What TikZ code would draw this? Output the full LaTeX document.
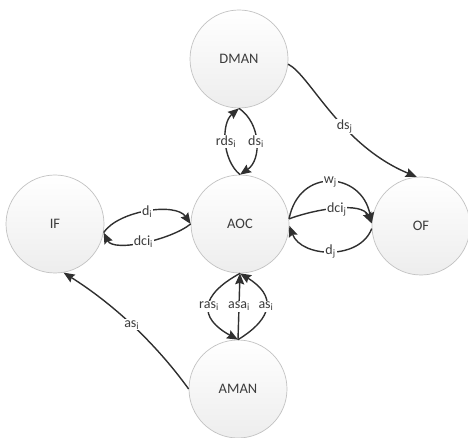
\documentclass[tikz,border=0pt]{standalone}
\usepackage{fontspec}
\setmainfont{Carlito}
\usetikzlibrary{arrows.meta}
\definecolor{txt}{HTML}{3C3C3C}
\definecolor{arr}{HTML}{303030}
\definecolor{rim}{HTML}{C2C2C2}
\begin{document}
\begin{tikzpicture}[x=1pt,y=-1pt,
  ent/.style={circle, minimum size=98pt, inner sep=0pt, draw=rim, line width=0.7pt,
    top color=white, bottom color=black!7, text=txt, font=\fontsize{14.5}{17}\selectfont},
  flow/.style={draw=arr, line width=1.4pt, -{Stealth[length=11pt,width=9pt,inset=1.5pt]}},
  lbl/.style={fill=white, inner sep=1pt, text=txt, font=\fontsize{14}{16}\selectfont}]
\useasboundingbox (0,0) rectangle (468,438);

\node[ent] (DMAN) at (239,59) {DMAN};
\node[ent] (IF) at (55,224) {IF};
\node[ent] (AOC) at (240,224) {AOC};
\node[ent] (OF) at (421,226) {OF};
\node[ent] (AMAN) at (238,389) {AMAN};

% IF <-> AOC
\draw[flow] (IF.-10) .. controls +(15,-22) and +(-15,-22) .. node[lbl] {d\textsubscript{i}} (AOC.180);
\draw[flow] (AOC.180) .. controls +(-20,16) and +(10,20) .. node[lbl] {dci\textsubscript{i}} (IF.-10);

% DMAN <-> AOC
\draw[flow] (DMAN.-90) .. controls +(22,15) and +(22,-15) .. node[lbl] {ds\textsubscript{i}} (AOC.90);
\draw[flow] (AOC.90) .. controls +(-18,-15) and +(-18,15) .. node[lbl] {rds\textsubscript{i}} (DMAN.-90);

% AOC <-> AMAN
\draw[flow] (AOC.-90) .. controls +(-40,22) and +(-40,-22) .. node[lbl] {ras\textsubscript{i}} (AMAN.90);
\draw[flow] (AMAN.90) -- node[lbl] {asa\textsubscript{i}} (AOC.-90);
\draw[flow] (AMAN.90) .. controls +(36,-22) and +(36,22) .. node[lbl] {as\textsubscript{i}} (AOC.-90);

% AOC <-> OF
\draw[flow] (AOC.6) .. controls +(10,-52) and +(-10,-52) .. node[lbl] {w\textsubscript{j}} (OF.177);
\draw[flow] (AOC.6) .. controls +(27,-10) and +(-10,-22) .. node[lbl] {dci\textsubscript{j}} (OF.177);
\draw[flow] (OF.183) .. controls +(-12,32) and +(12,32) .. node[lbl] {d\textsubscript{j}} (AOC.-2);

% DMAN -> OF
\draw[flow] (DMAN.-6) .. controls (310,75) and (340,145) .. node[lbl, pos=0.6] {ds\textsubscript{j}} (OF.95);

% AMAN -> IF
\draw[flow] (AMAN.180) .. controls +(-34,-47) and +(49,31) .. node[lbl] {as\textsubscript{i}} (IF.-80);
\end{tikzpicture}
\end{document}
